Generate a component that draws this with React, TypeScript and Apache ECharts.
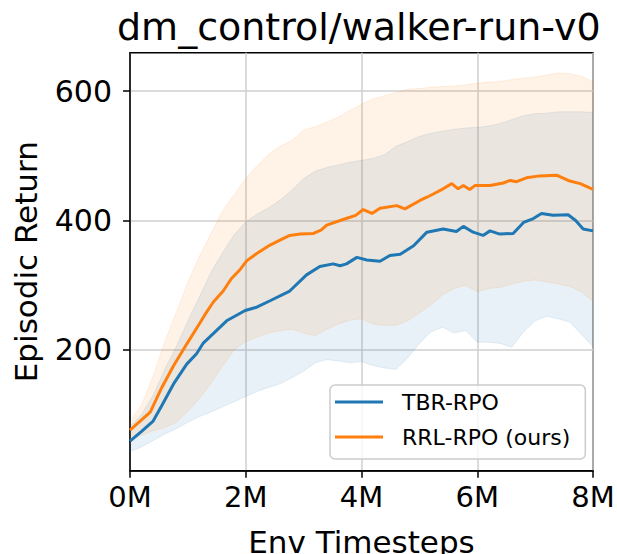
import React, { useEffect, useRef } from 'react';
import * as echarts from 'echarts';

const TITLE = 'dm_control/walker-run-v0';
const X_NAME = 'Env Timesteps';
const Y_NAME = 'Episodic Return';
const SERIES_NAMES = ['TBR-RPO', 'RRL-RPO (ours)'];
const Y_TICKS = [200, 400, 600];

// mean curves (x in millions of env steps)
const TBR_X = [0, 0.2, 0.4, 0.55, 0.75, 0.98, 1.15, 1.27, 1.67, 1.99, 2.19, 2.42, 2.76, 3.05, 3.28, 3.51, 3.63, 3.74, 3.92, 4.09, 4.32, 4.49, 4.67, 4.9, 5.13, 5.41, 5.64, 5.76, 5.93, 6.1, 6.22, 6.39, 6.62, 6.8, 6.97, 7.11, 7.31, 7.57, 7.7, 7.83, 8.0];
const TBR_MEAN = [59, 74, 90, 114, 147, 178, 194, 211, 245, 261, 266, 276, 291, 316, 329, 333, 330, 333, 343, 339, 337, 346, 348, 361, 382, 387, 383, 391, 382, 377, 384, 379, 380, 397, 403, 411, 408, 409, 400, 387, 384];

const RRL_X = [0, 0.2, 0.35, 0.55, 0.75, 0.98, 1.21, 1.32, 1.44, 1.61, 1.75, 1.9, 2.02, 2.19, 2.42, 2.6, 2.76, 2.94, 3.17, 3.3, 3.4, 3.63, 3.8, 3.9, 4.03, 4.18, 4.32, 4.61, 4.75, 5.01, 5.13, 5.24, 5.41, 5.56, 5.67, 5.76, 5.87, 5.96, 6.22, 6.45, 6.57, 6.68, 6.85, 7.08, 7.37, 7.6, 7.78, 8.0];
const RRL_MEAN = [76, 92, 104, 142, 175, 209, 242, 258, 274, 291, 310, 324, 338, 349, 362, 370, 377, 379, 380, 385, 393, 400, 405, 408, 417, 411, 419, 423, 418, 431, 436, 441, 449, 457, 449, 454, 448, 454, 454, 458, 462, 460, 466, 469, 470, 461, 457, 448];

// shaded bands
const BAND_X = [0, 0.2, 0.4, 0.6, 0.8, 1.0, 1.2, 1.4, 1.6, 1.8, 2.0, 2.2, 2.4, 2.6, 2.8, 3.0, 3.2, 3.4, 3.6, 3.8, 4.0, 4.2, 4.4, 4.6, 4.8, 5.0, 5.2, 5.4, 5.6, 5.8, 6.0, 6.2, 6.4, 6.6, 6.8, 7.0, 7.2, 7.4, 7.6, 7.8, 8.0];
const TBR_LOW = [43, 50, 60, 70, 78, 88, 97, 104, 112, 120, 128, 136, 142, 148, 157, 167, 180, 185, 183, 180, 182, 176, 172, 170, 188, 210, 228, 235, 226, 230, 212, 212, 210, 204, 228, 245, 252, 248, 243, 224, 205];
const TBR_HIGH = [82, 100, 130, 170, 205, 245, 282, 320, 350, 378, 398, 410, 420, 432, 447, 465, 476, 482, 486, 490, 493, 496, 502, 515, 522, 530, 535, 538, 541, 543, 544, 546, 550, 556, 562, 565, 566, 568, 568, 568, 567];
const RRL_LOW = [62, 68, 75, 80, 88, 105, 125, 148, 175, 200, 213, 220, 226, 230, 232, 226, 222, 232, 240, 246, 248, 240, 238, 238, 245, 257, 270, 285, 295, 300, 290, 295, 297, 302, 306, 308, 305, 302, 298, 290, 275];
const RRL_HIGH = [90, 115, 160, 213, 258, 305, 345, 380, 415, 440, 465, 485, 503, 515, 524, 540, 545, 552, 560, 570, 580, 588, 593, 598, 603, 604, 606, 607, 608, 610, 612, 614, 615, 618, 620, 622, 625, 628, 627, 623, 615];

const BLUE = '#1f77b4';
const ORANGE = '#ff7f0e';
const FONT = 'DejaVu Sans';

function bandSeries(name: string, lo: number[], hi: number[], fill: string) {
  const pts = BAND_X.map((x, i) => [x, lo[i], hi[i]]);
  return {
    type: 'custom',
    name,
    silent: true,
    clip: true,
    z: 1,
    data: pts,
    encode: { x: 0, y: [1, 2] },
    renderItem: (params: any, api: any) => {
      if (params.dataIndex !== 0) return null;
      const upper = pts.map((p) => api.coord([p[0], p[2]]));
      const lower = pts.map((p) => api.coord([p[0], p[1]])).reverse();
      return {
        type: 'polygon',
        shape: { points: upper.concat(lower) },
        style: { fill, stroke: fill, lineWidth: 1 },
      };
    },
  };
}

export default function App() {
  const ref = useRef<HTMLDivElement>(null);
  useEffect(() => {
    const chart = echarts.init(ref.current!, null, { renderer: 'svg' });
    chart.setOption({
      animation: false,
      backgroundColor: '#ffffff',
      title: {
        text: TITLE,
        left: 117,
        top: 8,
        padding: 0,
        textStyle: { fontSize: 38, fontWeight: 'normal', fontFamily: FONT, color: '#000', lineHeight: 38 },
      },
      grid: {
        left: 130,
        right: 24,
        top: 52.7,
        bottom: 83.3,
        show: true,
        borderColor: '#000',
        borderWidth: 1.5,
        containLabel: false,
        outerBoundsMode: 'none',
      },
      legend: {
        data: SERIES_NAMES,
        orient: 'vertical',
        left: 330,
        top: 385,
        padding: [4, 15, 9, 5],
        itemGap: 9,
        itemWidth: 48,
        itemHeight: 3,
        icon: 'rect',
        backgroundColor: 'rgba(255,255,255,0.8)',
        borderColor: '#cccccc',
        borderWidth: 1.5,
        borderRadius: 5,
        textStyle: { fontSize: 22, fontFamily: FONT, color: '#000', lineHeight: 26, padding: [0, 0, 0, 14] },
      },
      xAxis: {
        type: 'value',
        min: 0,
        max: 8,
        interval: 2,
        name: X_NAME,
        nameLocation: 'middle',
        nameGap: 56,
        nameTextStyle: { fontSize: 31, fontFamily: FONT, color: '#000', lineHeight: 31 },
        axisLine: { show: true, lineStyle: { color: '#000', width: 1.5 } },
        axisTick: { show: true, length: 7, lineStyle: { color: '#000', width: 1.5 } },
        axisLabel: { fontSize: 29, fontFamily: FONT, color: '#000', margin: 12, lineHeight: 29, formatter: (v: number) => `${v}M` },
        splitLine: { show: true, lineStyle: { color: '#cfcfcf', width: 1.5 } },
      },
      yAxis: {
        type: 'value',
        min: 13.3,
        max: 659.4,
        name: Y_NAME,
        nameLocation: 'middle',
        nameGap: 89,
        nameTextStyle: { fontSize: 31, fontFamily: FONT, color: '#000', lineHeight: 31 },
        axisLine: { show: true, lineStyle: { color: '#000', width: 1.5 } },
        axisTick: { show: true, length: 7, customValues: Y_TICKS, lineStyle: { color: '#000', width: 1.5 } },
        axisLabel: { fontSize: 30, fontFamily: FONT, color: '#000', margin: 18, customValues: Y_TICKS },
        splitLine: { show: true, lineStyle: { color: '#cfcfcf', width: 1.5 } },
      },
      series: [
        bandSeries('TBR-band', TBR_LOW, TBR_HIGH, 'rgba(31,119,180,0.1)'),
        bandSeries('RRL-band', RRL_LOW, RRL_HIGH, 'rgba(255,127,14,0.1)'),
        {
          type: 'line',
          name: SERIES_NAMES[0],
          data: TBR_X.map((x, i) => [x, TBR_MEAN[i]]),
          showSymbol: false,
          symbol: 'none',
          color: BLUE,
          lineStyle: { width: 3, color: BLUE },
          z: 3,
        },
        {
          type: 'line',
          name: SERIES_NAMES[1],
          data: RRL_X.map((x, i) => [x, RRL_MEAN[i]]),
          showSymbol: false,
          symbol: 'none',
          color: ORANGE,
          lineStyle: { width: 3, color: ORANGE },
          z: 3,
        },
      ],
    });
    return () => chart.dispose();
  }, []);
  return <div ref={ref} style={{ position: 'fixed', left: 0, top: 0, width: 617, height: 554 }} />;
}
